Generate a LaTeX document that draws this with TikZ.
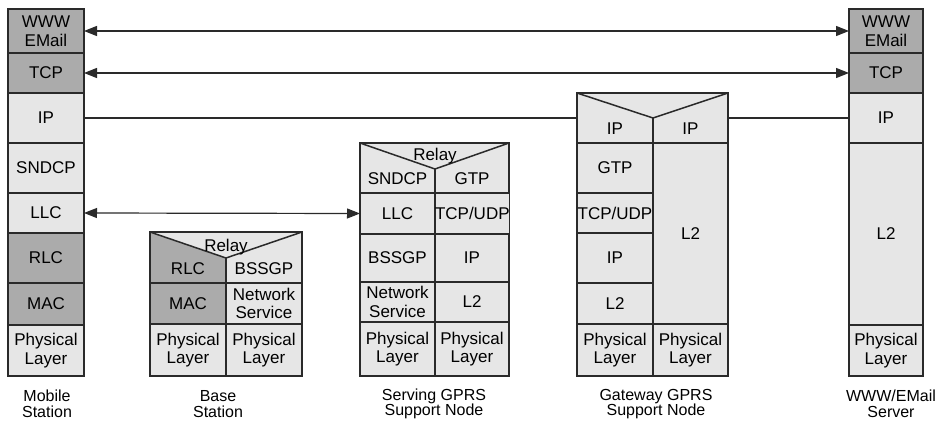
\documentclass[tikz,border=0pt]{standalone}
\usepackage{fontspec}
\setmainfont{Liberation Sans}
\usetikzlibrary{arrows.meta}
\definecolor{dk}{HTML}{ABABAB}
\definecolor{lt}{HTML}{E6E6E6}
\definecolor{ln}{HTML}{2A2A2A}
\newcommand\mkcell[7]{\node[cell, fill=#6, minimum width=#4pt, minimum height=#5pt] (#1) at (#2,#3) {#7};}
\newcommand\mkhdr[5]{\node[hdrfill, minimum width=#4pt, minimum height=#5pt] (#1) at (#2,#3) {};}
\begin{document}
\begin{tikzpicture}[x=1pt,y=-1pt,
  cell/.style={draw=ln, line width=1.5pt, anchor=north west, inner sep=0pt, outer sep=0pt, align=center, font=\fontsize{17}{18.5}\selectfont},
  hdrfill/.style={fill=lt, anchor=north west, inner sep=0pt, outer sep=0pt},
  bline/.style={draw=ln, line width=1.5pt, line join=miter},
  lbl/.style={inner sep=0pt, align=center, font=\fontsize{17}{18.5}\selectfont},
  captxt/.style={inner sep=0pt, align=center, font=\fontsize{16}{15.5}\selectfont},
  arr/.style={draw=ln, line width=1.2pt, {Triangle[length=13pt,width=10pt]}-{Triangle[length=13pt,width=10pt]}},
  iplink/.style={draw=ln, line width=1.2pt}]
\fill[white] (0,0) rectangle (940,425);
\useasboundingbox (0,0) rectangle (940,425);

% Mobile Station
\mkcell{ms-www}{8}{9}{76}{44}{dk}{WWW\\EMail}
\mkcell{ms-tcp}{8}{53}{76}{40}{dk}{TCP}
\mkcell{ms-ip}{8}{93}{76}{50}{lt}{IP}
\mkcell{ms-sndcp}{8}{143}{76}{50}{lt}{SNDCP}
\mkcell{ms-llc}{8}{193}{76}{40}{lt}{LLC}
\mkcell{ms-rlc}{8}{233}{76}{50}{dk}{RLC}
\mkcell{ms-mac}{8}{283}{76}{42}{dk}{MAC}
\mkcell{ms-phy}{8}{325}{76}{51}{lt}{Physical\\Layer}
\node[captxt] (ms-cap) at (47,404) {Mobile\\Station};

% Base Station
\mkhdr{bs-hdr}{150}{232}{152}{51}
\coordinate (bs-v) at (226,258);
\fill[dk] (bs-hdr.north west) -- (bs-v) -- (bs-hdr.south) -- (bs-hdr.south west) -- cycle;
\draw[bline] (bs-hdr.south west) rectangle (bs-hdr.north east);
\draw[bline] (bs-hdr.north west) -- (bs-v) -- (bs-hdr.north east);
\draw[bline] (bs-v) -- (bs-hdr.south);
\node[lbl] (bs-relay) at (226,247) {Relay};
\node[lbl] (bs-rlc) at (188,269) {RLC};
\node[lbl] (bs-bssgp) at (264,269) {BSSGP};
\mkcell{bs-mac}{150}{283}{76}{41}{dk}{MAC}
\mkcell{bs-ns}{226}{283}{76}{41}{lt}{Network\\Service}
\mkcell{bs-phy1}{150}{324}{76}{52}{lt}{Physical\\Layer}
\mkcell{bs-phy2}{226}{324}{76}{52}{lt}{Physical\\Layer}
\node[captxt] (bs-cap) at (218,404) {Base\\Station};

% Serving GPRS Support Node
\mkhdr{sg-hdr}{360}{143}{149}{50}
\coordinate (sg-v) at (435,169);
\draw[bline] (sg-hdr.south west) rectangle (sg-hdr.north east);
\draw[bline] (sg-hdr.north west) -- (sg-v) -- (sg-hdr.north east);
\draw[bline] (sg-v) -- (sg-v |- sg-hdr.south);
\node[lbl] (sg-relay) at (435,156) {Relay};
\node[lbl] (sg-sndcp) at (397.5,179) {SNDCP};
\node[lbl] (sg-gtp) at (472,179) {GTP};
\mkcell{sg-llc}{360}{193}{75}{41}{lt}{LLC}
\mkcell{sg-tcp}{435}{193}{74}{41}{lt}{TCP/UDP}
\mkcell{sg-bssgp}{360}{234}{75}{48}{lt}{BSSGP}
\mkcell{sg-ip}{435}{234}{74}{48}{lt}{IP}
\mkcell{sg-ns}{360}{282}{75}{40}{lt}{Network\\Service}
\mkcell{sg-l2}{435}{282}{74}{40}{lt}{L2}
\mkcell{sg-phy1}{360}{322}{75}{54}{lt}{Physical\\Layer}
\mkcell{sg-phy2}{435}{322}{74}{54}{lt}{Physical\\Layer}
\node[captxt] (sg-cap) at (434,404) {Serving GPRS\\Support Node};

% Gateway GPRS Support Node
\mkhdr{gg-hdr}{577}{93}{151}{50}
\coordinate (gg-v) at (653,118);
\draw[bline] (gg-hdr.south west) rectangle (gg-hdr.north east);
\draw[bline] (gg-hdr.north west) -- (gg-v) -- (gg-hdr.north east);
\draw[bline] (gg-v) -- (gg-v |- gg-hdr.south);
\node[lbl] (gg-ip1) at (615,129) {IP};
\node[lbl] (gg-ip2) at (690.5,129) {IP};
\mkcell{gg-gtp}{577}{143}{76}{50}{lt}{GTP}
\mkcell{gg-tcp}{577}{193}{76}{40}{lt}{TCP/UDP}
\mkcell{gg-ip}{577}{233}{76}{50}{lt}{IP}
\mkcell{gg-l2a}{577}{283}{76}{41}{lt}{L2}
\mkcell{gg-l2b}{653}{143}{75}{181}{lt}{L2}
\mkcell{gg-phy1}{577}{324}{76}{52}{lt}{Physical\\Layer}
\mkcell{gg-phy2}{653}{324}{75}{52}{lt}{Physical\\Layer}
\node[captxt] (gg-cap) at (656,404) {Gateway GPRS\\Support Node};

% WWW/EMail Server
\mkcell{srv-www}{849}{9}{74}{44}{dk}{WWW\\EMail}
\mkcell{srv-tcp}{849}{53}{74}{40}{dk}{TCP}
\mkcell{srv-ip}{849}{93}{74}{50}{lt}{IP}
\mkcell{srv-l2}{849}{143}{74}{182}{lt}{L2}
\mkcell{srv-phy}{849}{325}{74}{51}{lt}{Physical\\Layer}
\node[captxt] (srv-cap) at (891,404) {WWW/EMail\\Server};

% connectors
\draw[arr] (ms-www.east) -- (srv-www.west);
\draw[arr] (ms-tcp.east) -- (srv-tcp.west);
\draw[iplink] (ms-ip.east) -- (ms-ip.east -| gg-hdr.west);
\draw[iplink] (gg-hdr.east |- srv-ip.west) -- (srv-ip.west);
\draw[arr] (ms-llc.east) -- (sg-llc.west);
\end{tikzpicture}
\end{document}
